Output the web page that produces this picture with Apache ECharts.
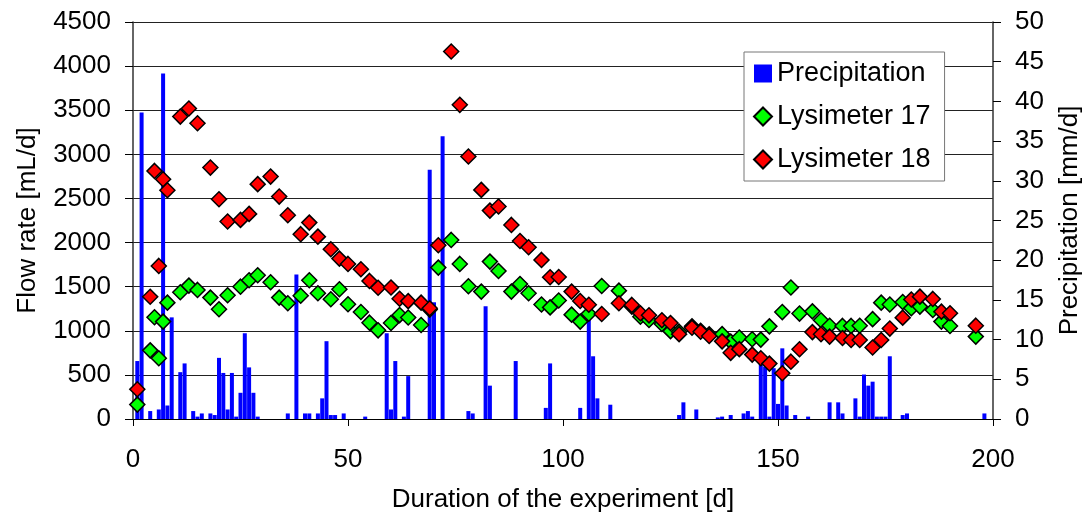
<!DOCTYPE html>
<html>
<head>
<meta charset="utf-8">
<script src="https://cdn.jsdelivr.net/npm/echarts@6/dist/echarts.min.js"></script>
<style>
html,body{margin:0;padding:0;background:#fff;}
#chart{width:1092px;height:524px;}
</style>
</head>
<body>
<div id="chart"></div>
<script>
// Sampling days of the lysimeter outflow [d]
const sampleDays = [1,4,5,6,7,8, 11,13,15,18,20,22, 25,27,29,32,34,36, 39,41,43,46,48,50,
  53,55,57,60,62,64, 67,69,71,74,76,78, 81,83,85,88,90,92, 95,97,99,102,104,106,
  109,113,116,118,120,123, 125,127,130,132,134,137, 139,141,144,146,148,151,
  153,155,158,160,162,165, 167,169,172,174,176,179, 181,183,186,188,190,196];
// Lysimeter 17 flow rate [mL/d]
const lys17 = [163,778,1153,688,1104,1319, 1437,1512,1463,1376,1244,1403, 1500,1573,1630,1550,1376,1312,
  1398,1573,1425,1357,1471,1300, 1213,1092,1005,1088,1178,1151, 1066,1240,1716,2030,1758,1504,
  1444,1784,1678,1444,1530,1425, 1298,1265,1343,1183,1104,1193, 1508,1455,1274,1160,1123,1077,
  996,990,1050,1000,960,962, 877,924,904,900,1050,1212, 1491,1195,1220,1120,1056,1055,
  1055,1057,1132,1319,1298,1326, 1255,1274,1236,1104,1055,934];
// Lysimeter 18 flow rate [mL/d]
const lys18 = [337,1385,2812,1735,2718,2593, 3428,3519,3353,2850,2491,2238, 2257,2325,2662,2748,2521,2310,
  2095,2226,2067,1924,1818,1758, 1698,1565,1488,1491,1363,1336, 1319,1255,1970,4165,3561,2975,
  2597,2362,2408,2200,2018,1947, 1803,1607,1610,1444,1338,1295, 1190,1312,1293,1199,1175,1119,
  1088,962,1034,990,941,880, 750,792,730,688,628,518, 650,790,985,960,934,918,
  896,896,810,896,1025,1149, 1355,1387,1361,1217,1199,1058];
// Precipitation days [d] and amounts [mm/d]
const rainDays = [1,2,4,6,7,8,9,11,12,14, 15,16,18,19,20,21,22,23,24,25, 26,27,28,29,36,38,40,41,43,44,
  45,46,47,49,54,59,60,61,63,64, 69,70,72,78,79,82,83,89,96,97, 104,106,107,108,111,127,128,131,136,137,
  139,142,143,144,146,147,148,149,150,151, 152,154,157,162,164,165,168,169,170,171, 172,173,174,175,176,179,180,198];
const rainMm = [7.3,38.6,1.0,1.2,43.5,1.7,12.8,5.9,7.0,1.0, 0.3,0.7,0.7,0.5,7.7,5.8,1.2,5.8,0.3,3.3,
  10.8,6.5,3.3,0.3,0.7,18.2,0.7,0.7,0.7,2.6, 9.8,0.5,0.5,0.7,0.3,10.8,1.2,7.3,0.3,5.4,
  31.4,14.7,35.6,1.0,0.7,14.2,4.2,7.3,1.4,7.0, 1.4,12.5,7.9,2.6,1.8,0.5,2.1,1.2,0.2,0.3,
  0.5,0.7,1.0,0.3,7.0,6.6,0.3,6.4,1.9,8.9, 1.7,0.5,0.3,2.1,2.1,0.7,2.6,0.3,5.6,4.2, 4.7,0.3,0.3,0.3,7.9,0.5,0.7,0.7];
// Axis ranges [min, max, interval]
const xRange = [0, 200, 50];
const flowRange = [0, 4500, 500];
const rainRange = [0, 50, 5];

const FONT = "'Liberation Sans', Arial, sans-serif";
const pair = (xs, ys) => xs.map((x, i) => [x, ys[i]]);
const plain = v => String(v);

const chart = echarts.init(document.getElementById('chart'), null, {renderer: 'canvas'});
const axisText = {fontSize: 26, color: '#000', fontFamily: FONT};
chart.setOption({
  animation: false,
  backgroundColor: '#fff',
  textStyle: {fontFamily: FONT},
  grid: {left: 133, right: 99, top: 22, bottom: 105},
  legend: {
    orient: 'vertical', left: 744, top: 52,
    backgroundColor: '#fff', borderColor: '#777', borderWidth: 1,
    padding: [8, 14, 8, 9], itemGap: 16, itemWidth: 18, itemHeight: 18,
    textStyle: {fontSize: 27, color: '#000', fontFamily: FONT},
    data: [
      {name: 'Precipitation', icon: 'rect'},
      {name: 'Lysimeter 17', icon: 'diamond'},
      {name: 'Lysimeter 18', icon: 'diamond'}
    ]
  },
  xAxis: {
    type: 'value', min: xRange[0], max: xRange[1], interval: xRange[2],
    name: 'Duration of the experiment [d]', nameLocation: 'middle', nameGap: 68,
    nameTextStyle: axisText,
    axisLine: {show: true, onZero: false, lineStyle: {color: '#000', width: 1}},
    axisTick: {show: true, length: 7, lineStyle: {color: '#000'}},
    axisLabel: Object.assign({margin: 28, formatter: plain}, axisText),
    splitLine: {show: false}
  },
  yAxis: [
    {
      type: 'value', min: flowRange[0], max: flowRange[1], interval: flowRange[2],
      name: 'Flow rate [mL/d]', nameLocation: 'middle', nameGap: 92, nameRotate: 90,
      nameTextStyle: axisText,
      axisLine: {show: true, lineStyle: {color: '#333', width: 1.5}},
      axisTick: {show: true, length: 8, lineStyle: {color: '#000'}},
      axisLabel: Object.assign({margin: 22, formatter: plain}, axisText),
      splitLine: {show: true, lineStyle: {color: '#222', width: 1}}
    },
    {
      type: 'value', position: 'right', min: rainRange[0], max: rainRange[1], interval: rainRange[2],
      name: 'Precipitation [mm/d]', nameLocation: 'middle', nameGap: 64, nameRotate: 90,
      nameTextStyle: axisText,
      axisLine: {show: true, lineStyle: {color: '#333', width: 1.5}},
      axisTick: {show: true, length: 8, lineStyle: {color: '#000'}},
      axisLabel: Object.assign({margin: 22, formatter: plain}, axisText),
      splitLine: {show: false}
    }
  ],
  series: [
    {
      name: 'Precipitation', type: 'bar', yAxisIndex: 1, barWidth: 4,
      itemStyle: {color: '#0000ff'},
      data: pair(rainDays, rainMm), z: 1
    },
    {
      name: 'Lysimeter 17', type: 'scatter', symbol: 'diamond', symbolSize: 15,
      itemStyle: {color: '#00ff00', borderColor: '#000', borderWidth: 1.5, opacity: 1},
      data: pair(sampleDays, lys17), z: 3
    },
    {
      name: 'Lysimeter 18', type: 'scatter', symbol: 'diamond', symbolSize: 15,
      itemStyle: {color: '#ff0000', borderColor: '#000', borderWidth: 1.5, opacity: 1},
      data: pair(sampleDays, lys18), z: 4
    }
  ]
});
</script>
</body>
</html>
